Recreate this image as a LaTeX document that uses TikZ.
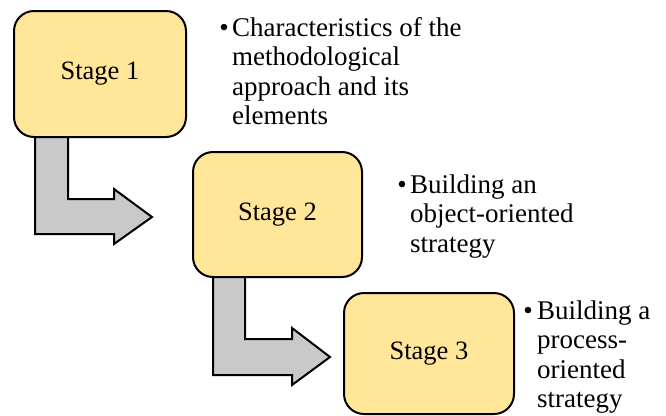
\documentclass[tikz,border=0pt]{standalone}
\usepackage{fontspec}
\setmainfont{Liberation Serif}
\definecolor{boxyellow}{HTML}{FFE699}
\definecolor{arrowgray}{HTML}{C9C9C9}
\begin{document}
\begin{tikzpicture}[x=1pt,y=-1pt,
  stagebox/.style={draw=black, line width=2pt, fill=boxyellow, rounded corners=20pt,
    inner sep=0pt, font=\fontsize{26.5}{30}\selectfont},
  flowarrow/.style={draw=black, line width=2pt, fill=arrowgray, line join=miter},
  bulletdot/.style={font=\fontsize{27}{29.6}\selectfont, anchor=base, inner sep=0pt},
  bullettext/.style={font=\fontsize{27}{29.6}\selectfont, align=left, anchor=base west, inner sep=0pt}
]
\useasboundingbox (0,0) rectangle (666,415);

% block arrows
\draw[flowarrow] (35,135) -- (68,135) -- (68,199) -- (114,199) -- (114,189) -- (152,217)
  -- (114,244) -- (114,234) -- (35,234) -- cycle;
\draw[flowarrow] (213,275) -- (245,275) -- (245,339) -- (292,339) -- (292,328) -- (330,357)
  -- (292,385) -- (292,375) -- (213,375) -- cycle;

% stage boxes
\node[stagebox, minimum width=172pt, minimum height=126pt] (s1) at (100,74) {Stage 1};
\node[stagebox, minimum width=169pt, minimum height=125pt] (s2) at (277.5,214.5) {Stage 2};
\node[stagebox, minimum width=170pt, minimum height=121pt] (s3) at (429,353.5) {Stage 3};

% bullet texts (anchored at the baseline of their last line)
\node[bulletdot] (b1) at (224,36) {\textbullet};
\node[bullettext] (t1) at (232,124.8) {Characteristics of the\\methodological\\approach and its\\elements};

\node[bulletdot] (b2) at (402,193) {\textbullet};
\node[bullettext] (t2) at (410,252.2) {Building an\\object-oriented\\strategy};

\node[bulletdot] (b3) at (528,319) {\textbullet};
\node[bullettext] (t3) at (537,407.8) {Building a\\process-\\oriented\\strategy};
\end{tikzpicture}
\end{document}
